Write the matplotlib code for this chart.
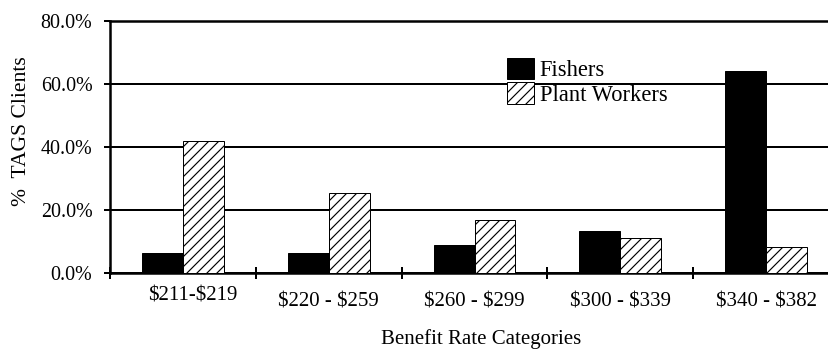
import matplotlib
matplotlib.use("Agg")
import matplotlib.pyplot as plt
import matplotlib.transforms as mtransforms
import numpy as np

categories = ["\\$211-\\$219", "\\$220 - \\$259", "\\$260 - \\$299",
              "\\$300 - \\$339", "\\$340 - \\$382"]
fishers = [6.4, 6.4, 9.0, 13.2, 64.0]
plant_workers = [42.0, 25.3, 16.7, 11.1, 8.4]
y_ticks = [0, 20, 40, 60, 80]

plt.rcParams['font.family'] = ['Liberation Serif', 'DejaVu Serif']
plt.rcParams['hatch.linewidth'] = 0.7
plt.rcParams['hatch.color'] = 'black'

fig = plt.figure(figsize=(6.9, 349 / 120), dpi=120)
ax = fig.add_axes([110 / 828, 76 / 349, 729 / 828, 252 / 349])

x = np.arange(len(categories))
width = 0.28
ax.bar(x - width / 2, fishers, width, color='black', edgecolor='black',
       linewidth=0.6, label='Fishers', zorder=3)
ax.bar(x + width / 2, plant_workers, width, color='white', edgecolor='black',
       linewidth=0.6, hatch='////', label='Plant Workers', zorder=3)

ax.set_xlim(-0.5, len(categories) - 0.5)
ax.set_ylim(0, 80)
ax.set_yticks(y_ticks)
ax.set_yticklabels([f"{v:.1f}%" for v in y_ticks], fontsize=12)
ax.yaxis.grid(True, color='black', linewidth=1.2, zorder=0)
ax.set_axisbelow(True)

# boundaries between categories get the tick marks, centres get the labels
ax.set_xticks(np.arange(-0.5, len(categories)))
ax.set_xticklabels([])
ax.set_xticks(x, minor=True)
ax.set_xticklabels(categories, minor=True, fontsize=12.5)
ax.tick_params(axis='x', which='major', direction='inout', length=7.2, width=1.2)
ax.tick_params(axis='x', which='minor', length=0, pad=11.5)
ax.tick_params(axis='y', direction='out', length=3.6, width=1.2, pad=7)

first = ax.xaxis.get_minor_ticks()[0].label1
first.set_transform(first.get_transform() +
                    mtransforms.ScaledTranslation(10 / 120, 6 / 120, fig.dpi_scale_trans))

for side in ['top', 'left', 'bottom']:
    ax.spines[side].set_linewidth(1.5)
ax.spines['right'].set_visible(False)

ax.set_ylabel("%  TAGS Clients", fontsize=13)
ax.yaxis.set_label_coords(-0.109, 0.563)
ax.set_xlabel("Benefit Rate Categories", fontsize=12.5)
ax.xaxis.set_label_coords(0.509, -0.222)

ax.legend(loc='upper left', bbox_to_anchor=(0.5446, 0.853), frameon=False,
          fontsize=13.5, borderpad=0, borderaxespad=0, handlelength=1.2,
          handleheight=1.07, labelspacing=0.05, handletextpad=0.25)

fig.savefig("out.png", dpi=120)
